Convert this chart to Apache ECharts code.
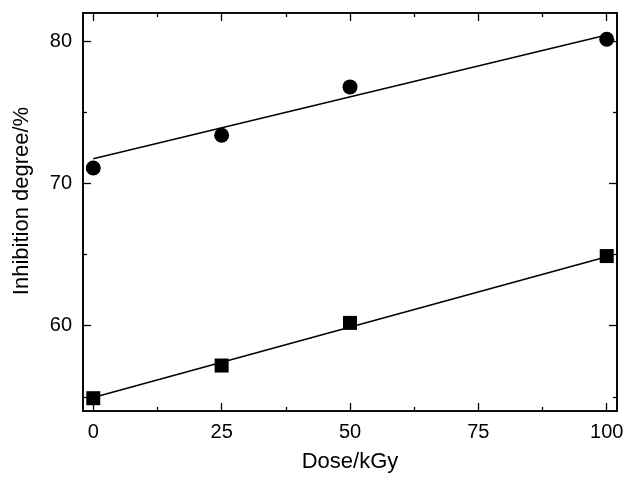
<!DOCTYPE html>
<html>
<head>
<meta charset="utf-8">
<script src="https://cdn.jsdelivr.net/npm/echarts@6/dist/echarts.min.js"></script>
<style>html,body{margin:0;padding:0;background:#fff}#c{width:627px;height:478px}</style>
</head>
<body>
<div id="c"></div>
<script>
const doses = [0, 25, 50, 100];
const circleValues = [71.1, 73.4, 76.8, 80.15];
const squareValues = [54.9, 57.2, 60.2, 64.9];
const fitX = [0, 100];
const circleFit = [71.75, 80.45];
const squareFit = [54.95, 64.85];
const xMajor = [0, 25, 50, 75, 100];
const xMinor = [12.5, 37.5, 62.5, 87.5];
const yMajor = [60, 70, 80];
const yMinor = [55, 65, 75];

const FONT = 'Liberation Sans, Arial, sans-serif';
const FS = 20;
const NFS = 22;
const X_MIN = -2, X_MAX = 102, Y_MIN = 54, Y_MAX = 82;

function xAx(pos, ticks, len, labels, extra) {
  return Object.assign({
    type: 'value', position: pos, min: X_MIN, max: X_MAX,
    axisLine: { show: true, onZero: false, lineStyle: { color: '#000', width: 1.6 } },
    axisTick: { show: true, inside: true, length: len, customValues: ticks, lineStyle: { color: '#000', width: 1.3 } },
    axisLabel: labels ? { show: true, customValues: ticks, color: '#000', fontSize: FS, fontFamily: FONT, margin: 11 } : { show: false },
    splitLine: { show: false }
  }, extra || {});
}
function yAx(pos, ticks, len, labels, extra) {
  return Object.assign({
    type: 'value', position: pos, min: Y_MIN, max: Y_MAX,
    axisLine: { show: true, onZero: false, lineStyle: { color: '#000', width: 1.6 } },
    axisTick: { show: true, inside: true, length: len, customValues: ticks, lineStyle: { color: '#000', width: 1.3 } },
    axisLabel: labels ? { show: true, customValues: ticks, color: '#000', fontSize: FS, fontFamily: FONT, margin: 11 } : { show: false },
    splitLine: { show: false }
  }, extra || {});
}

const chart = echarts.init(document.getElementById('c'), null, { renderer: 'canvas' });
chart.setOption({
  animation: false,
  backgroundColor: '#fff',
  grid: { left: 83, top: 13, right: 10, bottom: 60, containLabel: false },
  xAxis: [
    xAx('bottom', xMajor, 8, true, { name: 'Dose/kGy', nameLocation: 'middle', nameGap: 40, nameTextStyle: { color: '#000', fontSize: NFS, fontFamily: FONT } }),
    xAx('bottom', xMinor, 4, false),
    xAx('top', xMajor, 8, false),
    xAx('top', xMinor, 4, false)
  ],
  yAxis: [
    yAx('left', yMajor, 8, true, { name: 'Inhibition degree/%', nameLocation: 'middle', nameGap: 50, nameTextStyle: { color: '#000', fontSize: NFS, fontFamily: FONT, padding: [0, 0, 0, 22] } }),
    yAx('left', yMinor, 4, false),
    yAx('right', yMajor, 8, false),
    yAx('right', yMinor, 4, false)
  ],
  series: [
    { type: 'line', data: fitX.map((x, i) => [x, circleFit[i]]), showSymbol: false, symbol: 'none', lineStyle: { color: '#000', width: 1.6 }, z: 2 },
    { type: 'line', data: fitX.map((x, i) => [x, squareFit[i]]), showSymbol: false, symbol: 'none', lineStyle: { color: '#000', width: 1.6 }, z: 2 },
    { type: 'scatter', data: doses.map((x, i) => [x, circleValues[i]]), symbol: 'circle', symbolSize: 15, itemStyle: { color: '#000', opacity: 1 }, z: 3 },
    { type: 'scatter', data: doses.map((x, i) => [x, squareValues[i]]), symbol: 'rect', symbolSize: 14, itemStyle: { color: '#000', opacity: 1 }, z: 3 }
  ]
});
</script>
</body>
</html>
